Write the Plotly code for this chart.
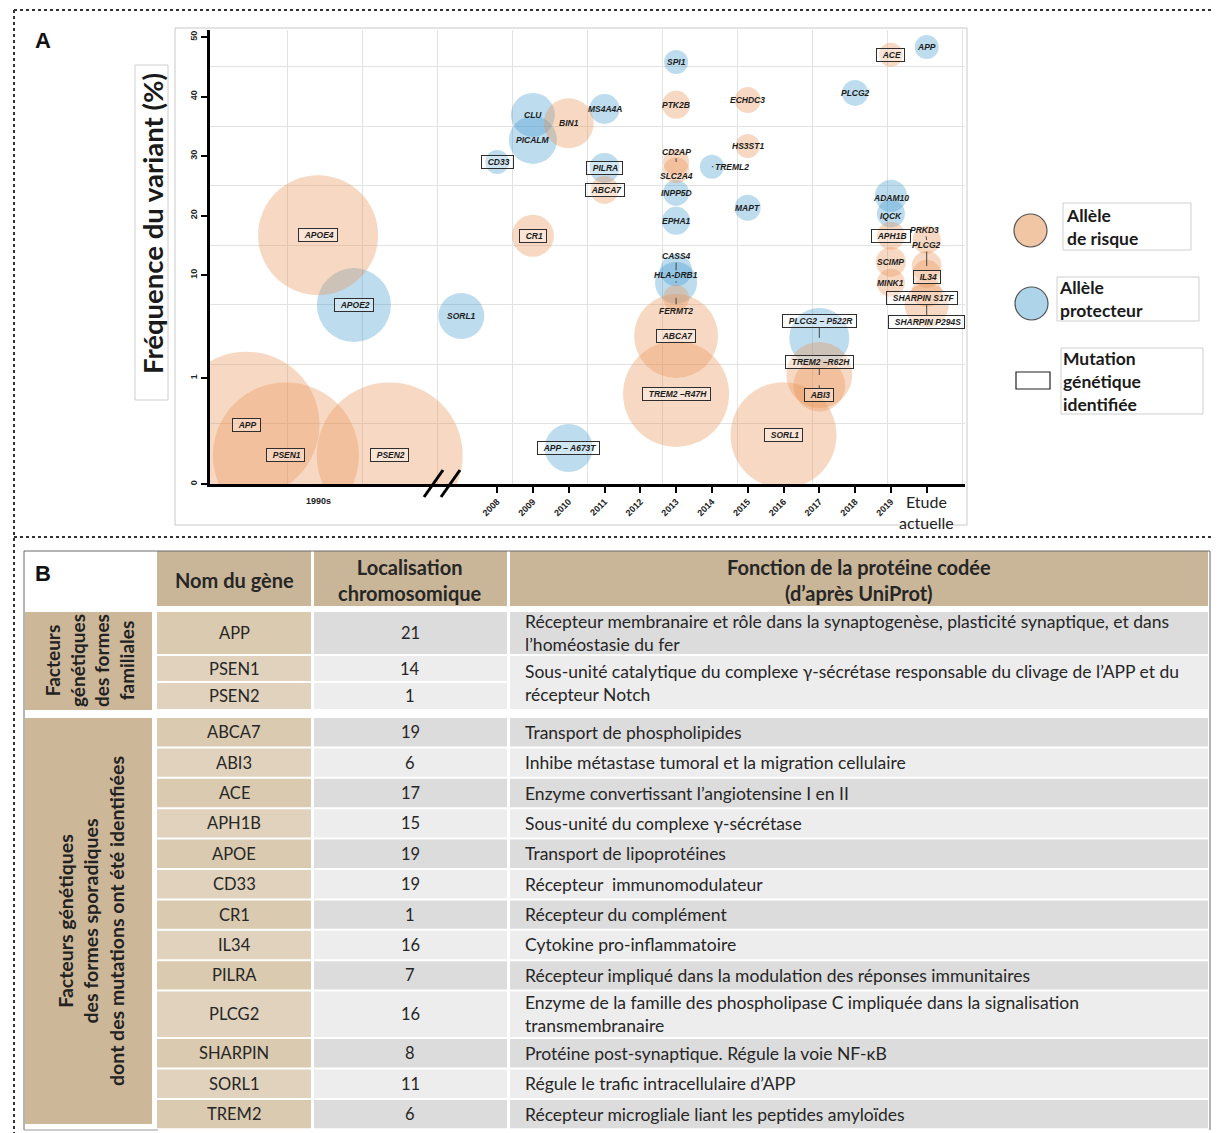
import math
import numpy as np
import plotly.graph_objects as go

# page size and default body margin of the html page (8 px)
PAGE_W, PAGE_H = 1221, 1133
OFF = 8
W, H = PAGE_W - OFF, PAGE_H - OFF

# ======================= Panel A : data =======================
genes = ["APP", "PSEN1", "PSEN2", "APOE4", "APOE2", "SORL1",
         "CD33", "CLU", "PICALM", "CR1", "BIN1", "APP – A673T",
         "MS4A4A", "PILRA", "ABCA7",
         "SPI1", "PTK2B", "CD2AP", "SLC2A4", "INPP5D", "EPHA1", "CASS4",
         "HLA-DRB1", "FERMT2", "ABCA7", "TREM2 –R47H",
         "TREML2", "ECHDC3", "HS3ST1", "MAPT", "SORL1",
         "PLCG2 – P522R", "TREM2 –R62H", "ABI3", "PLCG2",
         "ACE", "ADAM10", "IQCK", "APH1B", "SCIMP", "MINK1",
         "APP", "PRKD3", "PLCG2", "IL34", "SHARPIN S17F", "SHARPIN P294S"]
# x position (years; the 1990s discoveries are spread inside the "1990s" band, 2020 = "Etude actuelle")
annees = [2001.0, 2002.1, 2005.0, 2003.0, 2004.0, 2007.0,
          2008, 2009, 2009, 2009, 2010, 2010,
          2011, 2011, 2011,
          2013, 2013, 2013, 2013, 2013, 2013, 2013,
          2013, 2013, 2013, 2013,
          2014, 2015, 2015, 2015, 2016,
          2017, 2017, 2017, 2018,
          2019, 2019, 2019, 2019, 2019, 2019,
          2020, 2020, 2020, 2020, 2020, 2020]
frequences = [0.56, 0.27, 0.27, 16.7, 5.1, 4.0,
              29.0, 36.9, 32.7, 16.6, 35.5, 0.34,
              37.9, 28.0, 24.3,
              45.8, 38.6, 29.0, 27.6, 23.8, 19.1, 10.8,
              8.4, 6.0, 2.56, 0.85,
              28.2, 39.4, 31.7, 21.3, 0.46,
              2.45, 1.07, 0.93, 40.6,
              47.0, 23.3, 20.3, 16.6, 12.2, 8.4,
              48.3, 15.9, 11.5, 10.2, 6.8, 5.1]
effets = [14.6, 14.6, 14.6, 12.0, 7.4, 4.6,
          2.4, 4.4, 4.8, 4.2, 5.0, 4.8,
          3.0, 3.0, 2.8,
          2.4, 2.8, 2.6, 2.6, 2.6, 2.8, 3.2,
          4.2, 2.6, 8.4, 10.6,
          2.4, 2.6, 2.4, 2.6, 10.6,
          6.0, 6.6, 5.2, 2.6,
          2.4, 3.2, 2.8, 2.8, 3.0, 2.8,
          2.4, 2.8, 3.0, 2.8, 3.0, 4.4]
types = ["risque", "risque", "risque", "risque", "protecteur", "protecteur",
         "protecteur", "protecteur", "protecteur", "risque", "risque", "protecteur",
         "protecteur", "protecteur", "risque",
         "protecteur", "risque", "risque", "risque", "protecteur", "protecteur", "protecteur",
         "protecteur", "risque", "risque", "risque",
         "protecteur", "risque", "risque", "protecteur", "risque",
         "protecteur", "risque", "risque", "protecteur",
         "risque", "protecteur", "protecteur", "risque", "risque", "risque",
         "protecteur", "risque", "risque", "risque", "risque", "risque"]
mutations = [True, True, True, True, True, False,
             True, False, False, True, False, True,
             False, True, True,
             False, False, False, False, False, False, False,
             False, False, True, True,
             False, False, False, False, True,
             True, True, True, False,
             True, False, False, True, False, False,
             False, False, False, True, True, True]

y_ticks_vals = [0, 1, 10, 20, 30, 40, 50]
x_years = list(range(2008, 2021))

# ======================= Panel B : data =======================
genes_table = ["APP", "PSEN1", "PSEN2", "ABCA7", "ABI3", "ACE", "APH1B", "APOE",
               "CD33", "CR1", "IL34", "PILRA", "PLCG2", "SHARPIN", "SORL1", "TREM2"]
chromosomes = ["21", "14", "1", "19", "6", "17", "15", "19",
               "19", "1", "16", "7", "16", "8", "11", "6"]
fonctions = [
    "Récepteur membranaire et rôle dans la synaptogenèse, plasticité synaptique, et dans<br>l’homéostasie du fer",
    "Sous-unité catalytique du complexe γ-sécrétase responsable du clivage de l’APP et du<br>récepteur Notch",
    None,  # shared with PSEN1
    "Transport de phospholipides",
    "Inhibe métastase tumoral et la migration cellulaire",
    "Enzyme convertissant l’angiotensine I en II",
    "Sous-unité du complexe γ-sécrétase",
    "Transport de lipoprotéines",
    "Récepteur  immunomodulateur",
    "Récepteur du complément",
    "Cytokine pro-inflammatoire",
    "Récepteur impliqué dans la modulation des réponses immunitaires",
    "Enzyme de la famille des phospholipase C impliquée dans la signalisation<br>transmembranaire",
    "Protéine post-synaptique. Régule la voie NF-κB",
    "Régule le trafic intracellulaire d’APP",
    "Récepteur microgliale liant les peptides amyloïdes",
]
groupes = ["Facteurs<br>génétiques<br>des formes<br>familiales",
           "Facteurs génétiques<br>des formes sporadiques<br>dont des mutations ont été identifiées"]
entetes = ["Nom du gène", "Localisation<br>chromosomique",
           "Fonction de la protéine codée<br>(d’après UniProt)"]

# ======================= styles / geometry =======================
C_RISK = "rgba(231,146,84,0.50)"
C_PROT = "rgba(66,156,206,0.50)"
LABEL_FONT = "Liberation Sans"
TABLE_FONT = "Lato"

# label displacement (pixels) for crowded labels (ggrepel-like)
label_offsets = {
    ("CD2AP", 2013): (0, -10), ("SLC2A4", 2013): (0, 6),
    ("CASS4", 2013): (0, -14), ("HLA-DRB1", 2013): (0, -8), ("FERMT2", 2013): (0, 13),
    ("TREML2", 2014): (20, 0),
    ("PLCG2 – P522R", 2017): (0, -17), ("TREM2 –R62H", 2017): (0, -13), ("ABI3", 2017): (0, 10),
    ("PRKD3", 2020): (-2, -10), ("PLCG2", 2020): (0, -21), ("IL34", 2020): (0, 3),
    ("SHARPIN S17F", 2020): (-5, 6), ("SHARPIN P294S", 2020): (0, 17),
    ("ADAM10", 2019): (0, 2), ("IQCK", 2019): (0, 2),
}


def u_of(v):
    """Custom vertical scale of the original chart (compressed below 10 %)."""
    if v < 1:
        return 106.0 * v
    if v < 10:
        return 106.0 + 103.0 * math.log10(v)
    return 209.0 + 5.95 * (v - 10.0)


def lin_u(g):
    return 209.0 + 5.95 * (g - 10.0)


def PX(px):
    return (px - OFF) / W


def PY(py):
    return 1 - (py - OFF) / H


shapes = []
annotations = []


def rect(x0, y0, x1, y1, fill=None, line=None, lw=1, dash=None, layer="below"):
    shapes.append(dict(type="rect", xref="paper", yref="paper",
                       x0=PX(x0), x1=PX(x1), y0=PY(y1), y1=PY(y0),
                       fillcolor=fill or "rgba(0,0,0,0)",
                       line=dict(color=line or "rgba(0,0,0,0)", width=lw if line else 0, dash=dash),
                       layer=layer))


def pline(x0, y0, x1, y1, color="#000", lw=1, dash=None, layer="above"):
    shapes.append(dict(type="line", xref="paper", yref="paper",
                       x0=PX(x0), x1=PX(x1), y0=PY(y0), y1=PY(y1),
                       line=dict(color=color, width=lw, dash=dash), layer=layer))


def ptext(px, py, s, size, color="#222", family=TABLE_FONT, xanchor="center",
          align="center", angle=0, bold=False):
    annotations.append(dict(x=PX(px), y=PY(py), xref="paper", yref="paper",
                            text=(f"<b>{s}</b>" if bold else s), showarrow=False,
                            xanchor=xanchor, yanchor="middle", align=align, textangle=angle,
                            font=dict(family=family, size=size, color=color)))


fig = go.Figure()

# ---------------- bubbles ----------------
for t, col in [("protecteur", C_PROT), ("risque", C_RISK)]:
    idx = [i for i in range(len(genes)) if types[i] == t]
    fig.add_trace(go.Scatter(
        x=[annees[i] for i in idx],
        y=[u_of(frequences[i]) for i in idx],
        mode="markers",
        marker=dict(size=[effets[i] for i in idx], sizemode="diameter", sizeref=0.1,
                    color=col, line=dict(width=0)),
        cliponaxis=True, hoverinfo="skip", name=t))

# bubble labels
for i, g in enumerate(genes):
    dx, dy = label_offsets.get((g, annees[i]), (0, 0))
    ann = dict(x=annees[i], y=u_of(frequences[i]), xref="x", yref="y",
               font=dict(family=LABEL_FONT, size=8.5, color="#1c1c1c"))
    if mutations[i]:
        ann.update(text=f"<b><i>&nbsp;&nbsp;{g}&nbsp;</i></b>", bordercolor="#2e2e2e",
                   borderwidth=1, borderpad=1, bgcolor="rgba(255,255,255,0.30)")
    else:
        ann.update(text=f"<b><i>{g}</i></b>")
    if dx or dy:
        ann.update(showarrow=True, ax=dx, ay=dy, arrowhead=0, arrowwidth=1,
                   arrowcolor="#444", standoff=0)
    else:
        ann.update(showarrow=False)
    annotations.append(ann)

# ---------------- axes ----------------
x_grid = list(np.linspace(2002.15, 2021.0, 10))
y_grid = [lin_u(g) for g in (-15, -5, 5, 15, 25, 35, 45)]

fig.update_xaxes(domain=[PX(210), PX(965)], range=[1999.98, 2021.07],
                 tickmode="array", tickvals=x_years,
                 ticktext=[str(y) for y in x_years[:-1]] + [""],
                 tickangle=-45, ticks="outside", ticklen=6, tickwidth=2, tickcolor="#000",
                 tickfont=dict(family=LABEL_FONT, size=9, color="#222", weight="bold"),
                 showline=True, linewidth=3, linecolor="#000", showgrid=False, zeroline=False,
                 minor=dict(tickmode="array", tickvals=x_grid, showgrid=True,
                            gridcolor="#e2e2e2", gridwidth=1, ticks=""))
fig.update_yaxes(domain=[PY(484), PY(30)], range=[0, 454],
                 tickmode="array", tickvals=[u_of(v) for v in y_ticks_vals],
                 ticktext=[str(v) for v in y_ticks_vals],
                 tickangle=-90, ticks="outside", ticklen=6, tickwidth=2, tickcolor="#000",
                 tickfont=dict(family=LABEL_FONT, size=9, color="#222", weight="bold"),
                 showline=True, linewidth=3, linecolor="#000", showgrid=False, zeroline=False,
                 minor=dict(tickmode="array", tickvals=y_grid, showgrid=True,
                            gridcolor="#e2e2e2", gridwidth=1, ticks=""))

# chart frame
rect(175, 28, 967, 525, line="#c9c9c9", lw=1)
# axis break marks
pline(424, 497, 443, 470, lw=3)
pline(441, 497, 460, 470, lw=3)

# x labels "1990s" and "Etude actuelle"
annotations.append(dict(x=2003.0, y=PY(501), xref="x", yref="paper", showarrow=False,
                        text="<b>1990s</b>", font=dict(family=LABEL_FONT, size=9, color="#222")))
annotations.append(dict(x=2020, y=PY(512), xref="x", yref="paper", showarrow=False,
                        text="Etude<br>actuelle", font=dict(family=TABLE_FONT, size=16, color="#222")))

# y title box
rect(135, 65, 168, 400, line="#cfcfcf", lw=1)
ptext(153, 224, "Fréquence du variant (%)", 27.5, color="#1a1a1a", angle=-90, bold=True,
      family="Lato")

# panel letters
ptext(43, 40, "A", 22, color="#111", family="Liberation Sans", bold=True)
ptext(43, 573, "B", 22, color="#111", family="Liberation Sans", bold=True)

# legend
shapes.append(dict(type="circle", xref="paper", yref="paper", x0=PX(1014), x1=PX(1047),
                   y0=PY(247), y1=PY(214), fillcolor="#F1C6A4", line=dict(color="#555", width=1.2)))
shapes.append(dict(type="circle", xref="paper", yref="paper", x0=PX(1015), x1=PX(1048),
                   y0=PY(320), y1=PY(287), fillcolor="#AED4EA", line=dict(color="#555", width=1.2)))
rect(1016, 372, 1050, 389, fill="#fff", line="#222", lw=1.2, layer="above")
rect(1063, 203, 1191, 250, line="#cfcfcf", lw=1)
rect(1057, 277, 1199, 321, line="#cfcfcf", lw=1)
rect(1061, 348, 1203, 414, line="#cfcfcf", lw=1)
ptext(1064, 227, "Allèle<br>de risque", 17.5, xanchor="left", align="left", bold=True, color="#1a1a1a")
ptext(1057, 299, "Allèle<br>protecteur", 17.5, xanchor="left", align="left", bold=True, color="#1a1a1a")
ptext(1061, 381, "Mutation<br>génétique<br>identifiée", 17.5, xanchor="left", align="left", bold=True, color="#1a1a1a")

# dotted panel borders
pline(14, 10, 1221, 10, color="#333", lw=2, dash="dot")
pline(14, 10, 14, 1133, color="#333", lw=2, dash="dot")
pline(14, 537, 1221, 537, color="#333", lw=2, dash="dot")
pline(1219, 10, 1219, 537, color="#333", lw=2, dash="dot")

# ======================= Panel B : table =======================
HEAD_TAN = "#C9B597"
CAT_TAN = "#CCB798"
GENE_TAN = ["#E0D2BD", "#DACAB0"]
GRAY = ["#EDEDED", "#DCDCDC"]
cols = [(25, 152), (157, 311), (314, 507), (510, 1208)]
row_heights = [44, 27, 28] + [30.4] * 9 + [47.5] + [30.4] * 3
group_starts = {0: 611, 3: 717}
shade = [1, 0, 0, 1, 0, 1, 0, 1, 0, 1, 0, 1, 0, 1, 0, 1]

# header
for (x0, x1), t in zip(cols[1:], entetes):
    rect(x0, 551, x1, 606, fill=HEAD_TAN)
    ptext((x0 + x1) / 2, 580, t, 20, bold=True, color="#262626")

# rows
tops = []
y = None
for i, h in enumerate(row_heights):
    if i in group_starts:
        y = group_starts[i]
    tops.append((y, y + h))
    y += h

for i, (t0, t1) in enumerate(tops):
    gx0, gx1 = cols[1]
    rect(gx0, t0 + 1, gx1, t1 - 1, fill=GENE_TAN[shade[i]])
    ptext((gx0 + gx1) / 2, (t0 + t1) / 2, genes_table[i], 16.5, color="#262626")
    cx0, cx1 = cols[2]
    rect(cx0, t0 + 1, cx1, t1 - 1, fill=GRAY[shade[i]])
    ptext((cx0 + cx1) / 2, (t0 + t1) / 2, chromosomes[i], 16.5, color="#262626")
    if fonctions[i] is not None:
        fx0, fx1 = cols[3]
        b = t1
        j = i + 1
        while j < len(fonctions) and fonctions[j] is None:
            b = tops[j][1]
            j += 1
        rect(fx0, t0 + 1, fx1, b - 1, fill=GRAY[shade[i]])
        ptext(fx0 + 13, (t0 + b) / 2, fonctions[i], 17.5, xanchor="left", align="left", color="#262626")

# category column
rect(25, 612, 152, 710, fill=CAT_TAN)
rect(25, 718, 152, 1124, fill=CAT_TAN)
ptext(89, 661, groupes[0], 19, angle=-90, bold=True, color="#222")
ptext(91, 921, groupes[1], 19.5, angle=-90, bold=True, color="#222")

# table outline
pline(24, 551, 1210, 551, color="#6a6a6a", lw=1)
pline(24, 551, 24, 1130, color="#6a6a6a", lw=1)
pline(1210, 551, 1210, 1130, color="#6a6a6a", lw=1)
pline(24, 1130, 158, 1130, color="#9a9a9a", lw=1)

fig.update_layout(width=W, height=H, margin=dict(l=0, r=0, t=0, b=0),
                  paper_bgcolor="white", plot_bgcolor="white", showlegend=False,
                  shapes=shapes, annotations=annotations)

fig.write_html("out.html")
